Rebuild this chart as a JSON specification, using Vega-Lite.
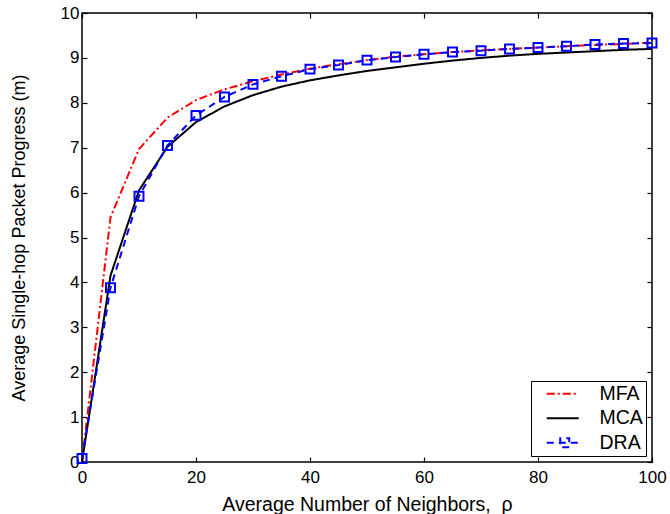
{
  "$schema": "https://vega.github.io/schema/vega-lite/v6.json",
  "width": 570,
  "height": 449,
  "autosize": "none",
  "padding": {"left": 82, "top": 13, "right": 18, "bottom": 52},
  "config": {
    "font": "Liberation Sans",
    "view": {"stroke": "#000000", "strokeWidth": 1.5},
    "axis": {"grid": false, "domain": false, "labelFlush": false, "tickColor": "#000000", "tickSize": -5, "tickWidth": 1.2, "labelColor": "#000000", "titleColor": "#000000", "labelFontSize": 17, "titleFontSize": 18, "titleFontWeight": "normal", "labelFont": "Liberation Sans", "titleFont": "Liberation Sans"}
  },
  "data": {"values": [
    {"x": 0, "series": "MFA", "y": 0}, {"x": 5, "series": "MFA", "y": 5.45}, {"x": 10, "series": "MFA", "y": 6.97}, {"x": 15, "series": "MFA", "y": 7.67}, {"x": 20, "series": "MFA", "y": 8.06}, {"x": 25, "series": "MFA", "y": 8.3}, {"x": 30, "series": "MFA", "y": 8.48}, {"x": 35, "series": "MFA", "y": 8.63}, {"x": 40, "series": "MFA", "y": 8.76}, {"x": 45, "series": "MFA", "y": 8.86}, {"x": 50, "series": "MFA", "y": 8.95}, {"x": 55, "series": "MFA", "y": 9.03}, {"x": 60, "series": "MFA", "y": 9.08}, {"x": 65, "series": "MFA", "y": 9.13}, {"x": 70, "series": "MFA", "y": 9.17}, {"x": 75, "series": "MFA", "y": 9.2}, {"x": 80, "series": "MFA", "y": 9.23}, {"x": 85, "series": "MFA", "y": 9.26}, {"x": 90, "series": "MFA", "y": 9.29}, {"x": 95, "series": "MFA", "y": 9.31}, {"x": 100, "series": "MFA", "y": 9.34},
    {"x": 0, "series": "MCA", "y": 0}, {"x": 5, "series": "MCA", "y": 4.15}, {"x": 10, "series": "MCA", "y": 6.05}, {"x": 15, "series": "MCA", "y": 7.02}, {"x": 20, "series": "MCA", "y": 7.57}, {"x": 25, "series": "MCA", "y": 7.92}, {"x": 30, "series": "MCA", "y": 8.17}, {"x": 35, "series": "MCA", "y": 8.36}, {"x": 40, "series": "MCA", "y": 8.5}, {"x": 45, "series": "MCA", "y": 8.61}, {"x": 50, "series": "MCA", "y": 8.71}, {"x": 55, "series": "MCA", "y": 8.79}, {"x": 60, "series": "MCA", "y": 8.87}, {"x": 65, "series": "MCA", "y": 8.94}, {"x": 70, "series": "MCA", "y": 9.0}, {"x": 75, "series": "MCA", "y": 9.05}, {"x": 80, "series": "MCA", "y": 9.09}, {"x": 85, "series": "MCA", "y": 9.12}, {"x": 90, "series": "MCA", "y": 9.15}, {"x": 95, "series": "MCA", "y": 9.18}, {"x": 100, "series": "MCA", "y": 9.2},
    {"x": 0, "series": "DRA", "y": 0.08}, {"x": 5, "series": "DRA", "y": 3.88}, {"x": 10, "series": "DRA", "y": 5.92}, {"x": 15, "series": "DRA", "y": 7.05}, {"x": 20, "series": "DRA", "y": 7.72}, {"x": 25, "series": "DRA", "y": 8.13}, {"x": 30, "series": "DRA", "y": 8.41}, {"x": 35, "series": "DRA", "y": 8.59}, {"x": 40, "series": "DRA", "y": 8.75}, {"x": 45, "series": "DRA", "y": 8.84}, {"x": 50, "series": "DRA", "y": 8.95}, {"x": 55, "series": "DRA", "y": 9.02}, {"x": 60, "series": "DRA", "y": 9.08}, {"x": 65, "series": "DRA", "y": 9.13}, {"x": 70, "series": "DRA", "y": 9.16}, {"x": 75, "series": "DRA", "y": 9.2}, {"x": 80, "series": "DRA", "y": 9.23}, {"x": 85, "series": "DRA", "y": 9.26}, {"x": 90, "series": "DRA", "y": 9.3}, {"x": 95, "series": "DRA", "y": 9.32}, {"x": 100, "series": "DRA", "y": 9.33}
  ]},
  "resolve": {"axis": {"x": "independent", "y": "independent"}},
  "layer": [
    {
      "mark": {"type": "line", "strokeWidth": 2},
      "encoding": {
        "x": {"field": "x", "type": "quantitative", "scale": {"domain": [0, 100], "nice": false, "padding": 0, "zero": false},
              "axis": {"values": [0, 20, 40, 60, 80, 100], "title": "Average Number of Neighbors,\u00a0\u00a0ρ", "titleFontSize": 19.5, "labelPadding": 12, "titlePadding": 10}},
        "y": {"field": "y", "type": "quantitative", "scale": {"domain": [0, 10], "nice": false, "padding": 0, "zero": false},
              "axis": {"values": [0, 1, 2, 3, 4, 5, 6, 7, 8, 9, 10], "title": "Average Single-hop Packet Progress (m)", "labelPadding": 8, "titlePadding": 32}},
        "color": {"field": "series", "type": "nominal",
                  "scale": {"domain": ["MFA", "MCA", "DRA"], "range": ["#FF0000", "#000000", "#0000FF"]},
                  "legend": {"title": null, "orient": "bottom-right", "offset": 6, "strokeColor": "#000000", "fillColor": "#FFFFFF", "padding": 3, "labelFontSize": 19.5, "labelFont": "Liberation Sans", "labelColor": "#000000", "symbolSize": 100, "symbolStrokeWidth": 2, "labelOffset": 46, "rowPadding": 3.5,
                    "encode": {"symbols": {"update": {"shape": {"signal": "datum.value === 'DRA' ? 'M0.6,0H3.3V-0.9H5.1V0.9H3.3V0H7' : 'M0.6,0H7'"}, "strokeDash": {"signal": "datum.value === 'DRA' ? [8, 5.5, 45, 6.5, 3, 20] : (datum.value === 'MFA' ? [2, 5, 9, 4, 2, 4] : [1, 0])"}, "fill": {"value": "transparent"}}}}}},
        "strokeDash": {"field": "series", "type": "nominal",
                       "scale": {"domain": ["MFA", "MCA", "DRA"], "range": [[8, 3, 2, 3], [1, 0], [7, 5]]},
                       "legend": null}
      }
    },
    {
      "transform": [{"filter": "datum.series === 'DRA'"}],
      "mark": {"type": "point", "shape": "square", "filled": false, "strokeWidth": 2, "size": 80, "color": "#0000FF", "opacity": 1},
      "encoding": {
        "x": {"field": "x", "type": "quantitative", "axis": {"orient": "top", "labels": false, "title": null, "values": [0, 20, 40, 60, 80, 100]}},
        "y": {"field": "y", "type": "quantitative", "axis": {"orient": "right", "labels": false, "title": null, "values": [0, 1, 2, 3, 4, 5, 6, 7, 8, 9, 10]}}
      }
    }
  ]
}
